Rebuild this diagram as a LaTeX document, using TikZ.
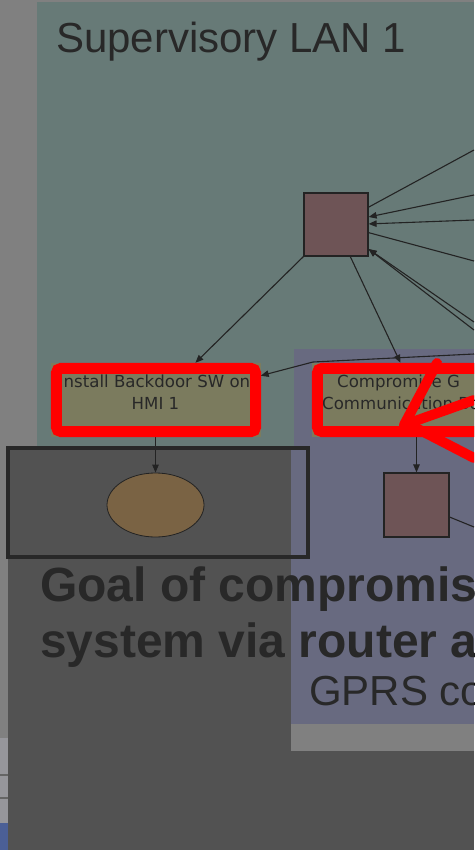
\documentclass[tikz,border=0pt]{standalone}
\usepackage{fontspec}
\setmainfont{Liberation Sans}
\newfontfamily\nodefont{DejaVu Sans}
\usetikzlibrary{arrows.meta,shapes.geometric,calc}

\definecolor{pagegrey}{RGB}{128,128,128}
\definecolor{lanteal}{RGB}{103,122,119}
\definecolor{gprsblue}{RGB}{104,106,128}
\definecolor{overlaygrey}{RGB}{82,82,82}
\definecolor{ink}{RGB}{40,40,40}
\definecolor{olive}{RGB}{123,123,94}
\definecolor{hostbrown}{RGB}{110,84,86}
\definecolor{goalbrown}{RGB}{122,99,68}
\definecolor{edgeink}{RGB}{35,35,35}
\definecolor{photogrey}{RGB}{150,150,155}
\definecolor{photoblue}{RGB}{75,95,150}

\tikzset{
  host/.style={draw=edgeink, line width=1.2pt, fill=hostbrown,
    minimum width=64pt, minimum height=63pt, inner sep=0pt},
  attack/.style={fill=olive, minimum width=210pt, minimum height=74pt, inner sep=0pt},
  goal/.style={ellipse, draw=edgeink, fill=goalbrown, line width=0.8pt,
    minimum width=97pt, minimum height=64pt, inner sep=0pt},
  nodetext/.style={inner sep=0pt, text=ink, font=\nodefont\fontsize{16.6}{22}\selectfont},
  link/.style={draw=edgeink, line width=1.1pt},
  arr/.style={link, -{Triangle[length=8pt,width=6.5pt]}},
  redframe/.style={draw=red, line width=11pt, rounded corners=5pt},
  redstroke/.style={draw=red, line width=10pt, line cap=round, line join=round},
  heading/.style={inner sep=0pt, text=ink, anchor=base west, font=\fontsize{42}{50}\selectfont},
  slidetext/.style={inner sep=0pt, text=ink, anchor=base west, font=\bfseries\fontsize{48}{56}\selectfont}
}

\begin{document}
\begin{tikzpicture}[x=1pt,y=-1pt]
\useasboundingbox (0,0) rectangle (474,850);
\clip (0,0) rectangle (474,850);

% page and panels
\fill[pagegrey] (0,0) rectangle (474,850);
\fill[photogrey] (0,738) rectangle (8,823);
\draw[edgeink!70, line width=1.5pt] (0,775) -- (8,775) (0,798) -- (8,798);
\fill[photoblue] (0,823) rectangle (8,850);
\fill[lanteal] (37,2) rectangle (474,448);
\fill[overlaygrey] (8,448) rectangle (474,850);
\fill[pagegrey] (291,448) rectangle (474,751);
\fill[gprsblue] (294,349) rectangle (474,724);
\fill[gprsblue] (291,448) rectangle (294,724);

% panel captions
\node[heading] (lan) at (56,53) {Supervisory LAN 1};
\node[heading] (gprs) at (309,705) {GPRS co};

% attack graph nodes
\node[host] (sq1) at (336,224.5) {};
\node[attack] (n1) at (155.5,400) {};
\node[nodetext, anchor=base] (t1a) at (154.5,387) {Install Backdoor SW on};
\node[nodetext, anchor=base] (t1b) at (155.5,409) {HMI 1};
\node[attack] (n2) at (417,400) {};
\node[nodetext, anchor=base west] (t2a) at (337,387) {Compromise G};
\node[nodetext, anchor=base west] (t2b) at (322,409) {Communication Bo};
\node[goal] (g1) at (155.5,505) {};
\node[host, minimum width=65pt, minimum height=64pt] (sq2) at (416.5,505) {};

% loose ends leaving the picture on the right
\coordinate (r1) at (474,150);
\coordinate (r2) at (474,195);
\coordinate (r3) at (474,220);
\coordinate (r4) at (474,261);
\coordinate (r5) at (474,322);
\coordinate (r6) at (474,330);
\coordinate (r7) at (474,354);
\coordinate (bend) at (313,362);
\coordinate (r8) at (474,527);

% connectors
\draw[link] (sq1.28.7) -- (r1);
\draw[arr] (r2) -- (sq1.13.2);
\draw[arr] (r3) -- (sq1.1);
\draw[link] (sq1.-14.9) -- (r4);
\draw[arr] (r5) -- (sq1.-37.4);
\draw[arr] (r6) -- (sq1.-37.4);
\draw[arr] (sq1.south west) -- (n1.43.5);
\draw[arr] (sq1.-66.7) -- (n2.114.7);
\draw[arr] (r7) -- (bend) -- (n1.13.4);
\draw[arr] (n1.south) -- (g1.north);
\draw[arr] (n2.south -| sq2.north) -- (sq2.north);
\draw[link] (sq2.-20.3) -- (r8);

% highlight frame on the overlay
\draw[ink, line width=3.5pt] (8,448) rectangle (308,557);

% slide text
\node[slidetext] (goalA) at (40,601) {Goal of compromis};
\node[slidetext] (goalB) at (40,657) {system via router a};

% red annotations
\draw[redframe] ($(n1.north west)+(6,5.5)$) rectangle ($(n1.south east)+(-5,-5.5)$);
\draw[redframe] ($(n2.north west)+(5.5,5.5)$) rectangle ($(n2.south east)+(-5.5,-5.5)$);
\coordinate (tip) at (404,425);
\draw[redstroke] (437,363) -- (tip) -- (474,400);
\draw[redstroke] (416,428) -- (474,458);
\end{tikzpicture}
\end{document}
